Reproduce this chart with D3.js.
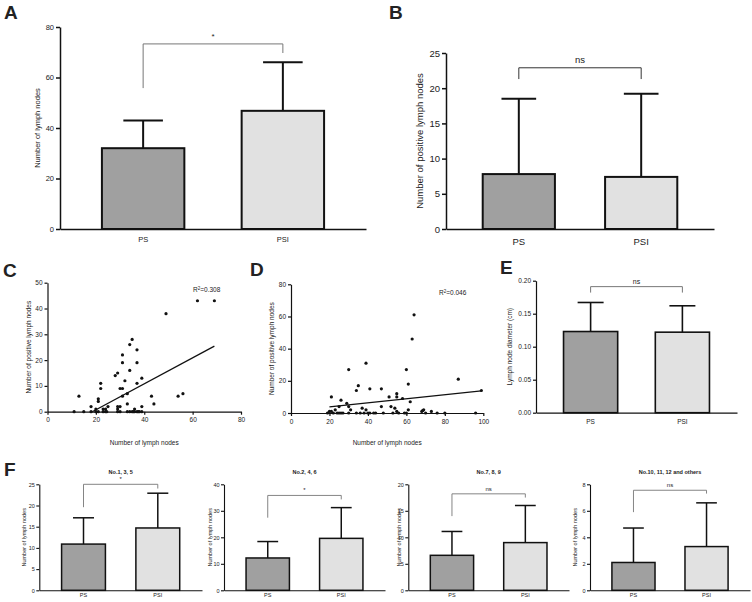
<!DOCTYPE html>
<html>
<head>
<meta charset="utf-8">
<script src="https://cdn.jsdelivr.net/npm/d3@7"></script>
<style>
  body { margin: 0; background: #fff; }
  svg { display: block; }
  text { font-family: "Liberation Sans", Arial, sans-serif; fill: #222; }
</style>
</head>
<body>
<svg id="fig" width="752" height="602"></svg>
<script>
const groups = ['PS', 'PSI'];

// A - total lymph nodes
const totalMean = [32, 46.8];
const totalSD = [11, 19.2];
// B - positive lymph nodes
const posMean = [7.8, 7.4];
const posSD = [10.7, 11.8];
// E - lymph node diameter (cm)
const diamMean = [0.123, 0.122];
const diamSD = [0.044, 0.040];
// F - per station group
const stationTitles = ['No.1, 3, 5', 'No.2, 4, 6', 'No.7, 8, 9', 'No.10, 11, 12 and others'];
const stationMean = [[10.9, 14.7], [12.2, 19.6], [6.6, 9.0], [2.1, 3.3]];
const stationSD = [[6.2, 8.2], [6.2, 11.6], [4.5, 7.0], [2.6, 3.3]];
const stationMax = [25, 40, 20, 8];
const stationStep = [5, 10, 5, 2];

// significance brackets: [top, left leg end, right leg end] in data units
const sigLabels = { A: '*', B: 'ns', E: 'ns', F: ['*', '*', 'ns', 'ns'] };
const bracketA = [73.3, 55.8, 69.7];
const bracketB = [22.9, 21.3, 21.3];
const bracketE = [0.191, 0.182, 0.182];
const bracketF = [[25, 19.6, 24], [35.8, 27.4, 34.3], [18.2, 14.0, 17.5], [7.55, 5.9, 7.3]];

// C - lymph nodes vs positive lymph nodes (PS)
const scatterC = [[13,6],[18,2],[21,5],[21,4],[22,11],[22,9],[20,1],[23,1],[24,1],[25,2],[28,14],[29,15],
  [29,2],[29,1],[30,2],[30,9],[31,9],[31,22],[31,19],[32,12],[31,6],[33,7],[33,3],[34,26],[35,28],[34,16],
  [37,24],[37,19],[37,11],[39,13],[39,2],[36,1],[43,6],[44,3],[49,38],[54,6],[56,7],[62,43],[69,43],
  [11,0],[15,0],[18,0],[20,0],[21,0],[23,0],[24,0],[24.5,0],[29,0],[30,0],[33,0],[34,0],[35,0],[35.5,0],
  [36,0],[37,0],[37.5,0],[38,0],[39,0]];
const regC = [[18.5, 0], [69, 25.4]];
const r2C = '0.308';

// D - lymph nodes vs positive lymph nodes (PSI)
const scatterD = [[21,10],[19,0],[20,1],[21,1],[22,0],[23,2],[25,4],[26,8],[24,0],[25,0],[26,0],[27,0],
  [29,6],[30,27],[30,4],[31,2],[30,0],[34,14],[35,17],[34,0],[36,0],[37,3],[39,31],[39,2],[38,0],[40,0],
  [41,0],[41,15],[43,0],[44,0],[47,15],[47,4],[48,0],[51,10],[52,4],[54,3],[55,12],[55,10],[55,1],[53,0],
  [56,0],[58,9],[60,27],[61,18],[61,2],[62,7],[63,46],[64,61],[59,0],[60,0],[68,1],[68.5,1.5],[69,2],
  [70,0],[73,1],[76,0],[80,0],[87,21],[96,0],[99,14]];
const regD = [[20, 3.8], [99, 13.8]];
const r2D = '0.046';

const fills = ['#a0a0a0', '#e1e1e1'];
const svg = d3.select('#fig');

function styleAxis(sel, fs, sw) {
  sel.selectAll('path.domain').attr('stroke', '#111').attr('stroke-width', sw);
  sel.selectAll('.tick line').attr('stroke', '#111').attr('stroke-width', sw);
  sel.selectAll('.tick text').style('font-size', fs + 'px').attr('fill', '#222');
}

function barPanel(o) {
  const g = svg.append('g');
  const y = d3.scaleLinear().domain([0, o.max]).range([o.yBottom, o.yTop]);
  const x = d3.scaleBand().domain(groups).range([o.x0, o.x1]).paddingInner(0.41).paddingOuter(0.3);
  const bw = x.bandwidth();
  const cx = d => x(d) + bw / 2;

  // error bars (upper only)
  const eb = g.append('g').attr('stroke', '#111').attr('stroke-width', o.sw);
  groups.forEach((d, i) => {
    const top = y(o.mean[i] + o.sd[i]);
    eb.append('line').attr('x1', cx(d)).attr('x2', cx(d)).attr('y1', y(o.mean[i])).attr('y2', top);
    eb.append('line').attr('x1', cx(d) - bw * 0.24).attr('x2', cx(d) + bw * 0.24).attr('y1', top).attr('y2', top);
  });

  g.selectAll('rect.bar').data(groups).join('rect').attr('class', 'bar')
    .attr('x', d => x(d)).attr('width', bw)
    .attr('y', (d, i) => y(o.mean[i]))
    .attr('height', (d, i) => y(0) - y(o.mean[i]))
    .attr('fill', (d, i) => fills[i])
    .attr('stroke', '#111').attr('stroke-width', o.sw);

  // axes
  const ya = g.append('g').attr('transform', `translate(${o.x0},0)`)
    .call(d3.axisLeft(y).tickValues(d3.range(0, o.max + o.step / 2, o.step))
      .tickSize(o.tick).tickSizeOuter(0).tickPadding(o.tpad).tickFormat(o.fmt || d3.format('d')));
  styleAxis(ya, o.fs, o.asw);
  const xa = g.append('g').attr('transform', `translate(0,${y(0)})`)
    .call(d3.axisBottom(x).tickSize(0).tickSizeOuter(0).tickPadding(o.xpad));
  styleAxis(xa, o.fs, o.asw);

  // y label
  g.append('text').attr('transform', `translate(${o.labelX},${(o.yTop + o.yBottom) / 2}) rotate(-90)`)
    .attr('text-anchor', 'middle').attr('dy', '0.35em').style('font-size', o.lfs + 'px').text(o.yLabel);

  // bracket
  const b = o.bracket;
  const bx0 = cx('PS'), bx1 = cx('PSI');
  g.append('path')
    .attr('d', `M${bx0},${y(b[1])}V${y(b[0])}H${bx1}V${y(b[2])}`)
    .attr('fill', 'none').attr('stroke', o.bcol).attr('stroke-width', o.bsw);
  g.append('text').attr('x', (bx0 + bx1) / 2).attr('y', y(b[0]) - o.sigOff)
    .attr('text-anchor', 'middle').style('font-size', o.sfs + 'px').text(o.sig);

  if (o.title) {
    g.append('text').attr('x', (bx0 + bx1) / 2).attr('y', o.titleY)
      .attr('text-anchor', 'middle').style('font-size', o.fs + 'px').style('font-weight', 'bold').text(o.title);
  }
}

function scatterPanel(o) {
  const g = svg.append('g');
  const x = d3.scaleLinear().domain([0, o.xMax]).range([o.x0, o.x1]);
  const y = d3.scaleLinear().domain([0, o.yMax]).range([o.yBottom, o.yTop]);
  const xa = g.append('g').attr('transform', `translate(0,${o.yBottom})`)
    .call(d3.axisBottom(x).tickValues(d3.range(0, o.xMax + 1, o.xStep)).tickSize(3).tickSizeOuter(0).tickPadding(3));
  styleAxis(xa, o.fs, 1.2);
  const ya = g.append('g').attr('transform', `translate(${o.x0},0)`)
    .call(d3.axisLeft(y).tickValues(d3.range(0, o.yMax + 1, o.yStep)).tickSize(3).tickSizeOuter(0).tickPadding(2));
  styleAxis(ya, o.fs, 1.2);

  g.append('path').datum(o.reg)
    .attr('d', d3.line().x(d => x(d[0])).y(d => y(d[1])))
    .attr('stroke', '#111').attr('stroke-width', 1.3).attr('fill', 'none');
  g.selectAll('circle').data(o.pts).join('circle')
    .attr('cx', d => x(d[0])).attr('cy', d => y(d[1])).attr('r', 1.6).attr('fill', '#111');

  g.append('text').attr('transform', `translate(${o.labelX},${(o.yTop + o.yBottom) / 2}) rotate(-90)`)
    .attr('text-anchor', 'middle').attr('dy', '0.35em').style('font-size', o.fs + 'px').text(o.yLabel);
  if (o.xLabel) {
    g.append('text').attr('x', (o.x0 + o.x1) / 2).attr('y', o.xLabelY)
      .attr('text-anchor', 'middle').style('font-size', o.fs + 'px').text(o.xLabel);
  }
  const t = g.append('text').attr('x', o.r2x).attr('y', o.r2y).style('font-size', o.fs + 'px');
  t.append('tspan').text('R');
  t.append('tspan').attr('dy', -2.5).style('font-size', (o.fs * 0.7) + 'px').text('2');
  t.append('tspan').attr('dy', 2.5).text('=' + o.r2);
}

// panel A
barPanel({ x0: 60, x1: 366, yBottom: 229, yTop: 27, max: 80, step: 20, mean: totalMean, sd: totalSD,
  fs: 7.5, lfs: 7.5, sfs: 8, tick: 4, tpad: 2, xpad: 8, sw: 2, asw: 1.5, labelX: 37,
  yLabel: 'Number of lymph nodes', bracket: bracketA, sig: sigLabels.A, bcol: '#777', bsw: 1, sigOff: 5 });

// panel B
barPanel({ x0: 446, x1: 714, yBottom: 229, yTop: 53, max: 25, step: 5, mean: posMean, sd: posSD,
  fs: 9.5, lfs: 9.5, sfs: 9.5, tick: 4, tpad: 2, xpad: 9, sw: 2, asw: 1.5, labelX: 420,
  yLabel: 'Number of positive lymph nodes', bracket: bracketB, sig: sigLabels.B, bcol: '#333', bsw: 1, sigOff: 5 });

// panel C
scatterPanel({ x0: 47.5, x1: 241, yBottom: 411.7, yTop: 282.7, xMax: 80, yMax: 50, xStep: 20, yStep: 10,
  pts: scatterC, reg: regC, r2: r2C, r2x: 193, r2y: 292, fs: 6.5, labelX: 29,
  yLabel: 'Number of positive lymph nodes', xLabel: 'Number of lymph nodes', xLabelY: 445 });

// panel D
scatterPanel({ x0: 291, x1: 483.3, yBottom: 413, yTop: 284.3, xMax: 100, yMax: 80, xStep: 20, yStep: 20,
  pts: scatterD, reg: regD, r2: r2D, r2x: 439, r2y: 295, fs: 6.5, labelX: 272,
  yLabel: 'Number of positive lymph nodes', xLabel: 'Number of lymph nodes', xLabelY: 445 });

// panel E
barPanel({ x0: 536, x1: 737, yBottom: 412.7, yTop: 280.7, max: 0.2, step: 0.05, mean: diamMean, sd: diamSD,
  fmt: d3.format('.2f'), fs: 6.5, lfs: 6.5, sfs: 7, tick: 3, tpad: 2, xpad: 7, sw: 1.6, asw: 1.2, labelX: 510,
  yLabel: 'Lymph node diameter (cm)', bracket: bracketE, sig: sigLabels.E, bcol: '#777', bsw: 1, sigOff: 3 });

// panel F
const fLayout = [[39.3, 202], [224, 385], [408.3, 569], [590, 750]];
const fLabelX = [24, 210, 399, 575];
stationTitles.forEach((title, i) => {
  barPanel({ x0: fLayout[i][0], x1: fLayout[i][1], yBottom: 590.3, yTop: 484.3, max: stationMax[i], step: stationStep[i],
    mean: stationMean[i], sd: stationSD[i], fs: 5.5, lfs: 5.5, sfs: 6, tick: 3, tpad: 1.5, xpad: 3, sw: 1.5, asw: 1.1,
    labelX: fLabelX[i], yLabel: 'Number of lymph nodes', bracket: bracketF[i], sig: sigLabels.F[i],
    bcol: '#777', bsw: 0.9, sigOff: 3, title: title, titleY: 474 });
});

// panel letters
const letters = [['A', 4, 19], ['B', 389, 19], ['C', 3, 277], ['D', 250, 276], ['E', 500, 274], ['F', 4, 476]];
svg.selectAll('text.letter').data(letters).join('text').attr('class', 'letter')
  .attr('x', d => d[1]).attr('y', d => d[2])
  .style('font-size', '19px').style('font-weight', 'bold').attr('fill', '#000').text(d => d[0]);
</script>
</body>
</html>
